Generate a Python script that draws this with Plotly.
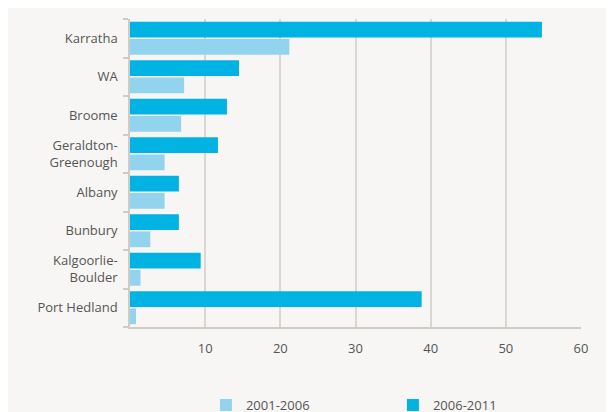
import plotly.graph_objects as go

categories = ["Karratha", "WA", "Broome", "Geraldton-<br>Greenough", "Albany",
              "Bunbury", "Kalgoorlie-<br>Boulder", "Port Hedland"]
series_2001_2006 = [21.2, 7.2, 6.8, 4.6, 4.6, 2.7, 1.4, 0.8]
series_2006_2011 = [54.8, 14.5, 12.9, 11.7, 6.5, 6.5, 9.4, 38.8]
x_ticks = [10, 20, 30, 40, 50, 60]

fig = go.Figure()
fig.add_trace(go.Bar(y=categories, x=series_2001_2006, orientation="h",
                     name="2001-2006", marker=dict(color="#92D3EE", line=dict(width=0))))
fig.add_trace(go.Bar(y=categories, x=series_2006_2011, orientation="h",
                     name="2006-2011", marker=dict(color="#00B3E2", line=dict(width=0))))

font_family = "Open Sans, Noto Sans, sans-serif"
fig.update_layout(
    width=614, height=412,
    margin=dict(l=122, r=41, t=11, b=93),
    paper_bgcolor="#F7F6F4", plot_bgcolor="#F7F6F4",
    barmode="group", bargap=0.11, bargroupgap=0.08,
    font=dict(family=font_family, size=13, color="#555555"),
    showlegend=True,
    legend=dict(orientation="h", x=0.583, xanchor="center",
                yref="container", y=0.036, yanchor="middle",
                font=dict(size=13, color="#555555"), entrywidth=142,
                bgcolor="rgba(0,0,0,0)"),
    xaxis=dict(range=[0, 60], tickvals=x_ticks, showgrid=True, gridcolor="#DAD6D2",
               gridwidth=1.5, zeroline=False, showline=True, linecolor="#CFCBC7",
               linewidth=1.5, ticks="", tickfont=dict(size=13, color="#555555"),
               ticklabelstandoff=9, automargin=False, fixedrange=True),
    yaxis=dict(categoryorder="array", categoryarray=categories[::-1],
               showgrid=False, showline=True, linecolor="#CFCBC7", linewidth=1.5,
               ticks="outside", ticklen=5, tickcolor="#CFCBC7", tickwidth=1.5,
               tickson="boundaries", ticklabelstandoff=8, automargin=False,
               tickfont=dict(size=13, color="#555555")),
)

fig.write_html("out.html")
